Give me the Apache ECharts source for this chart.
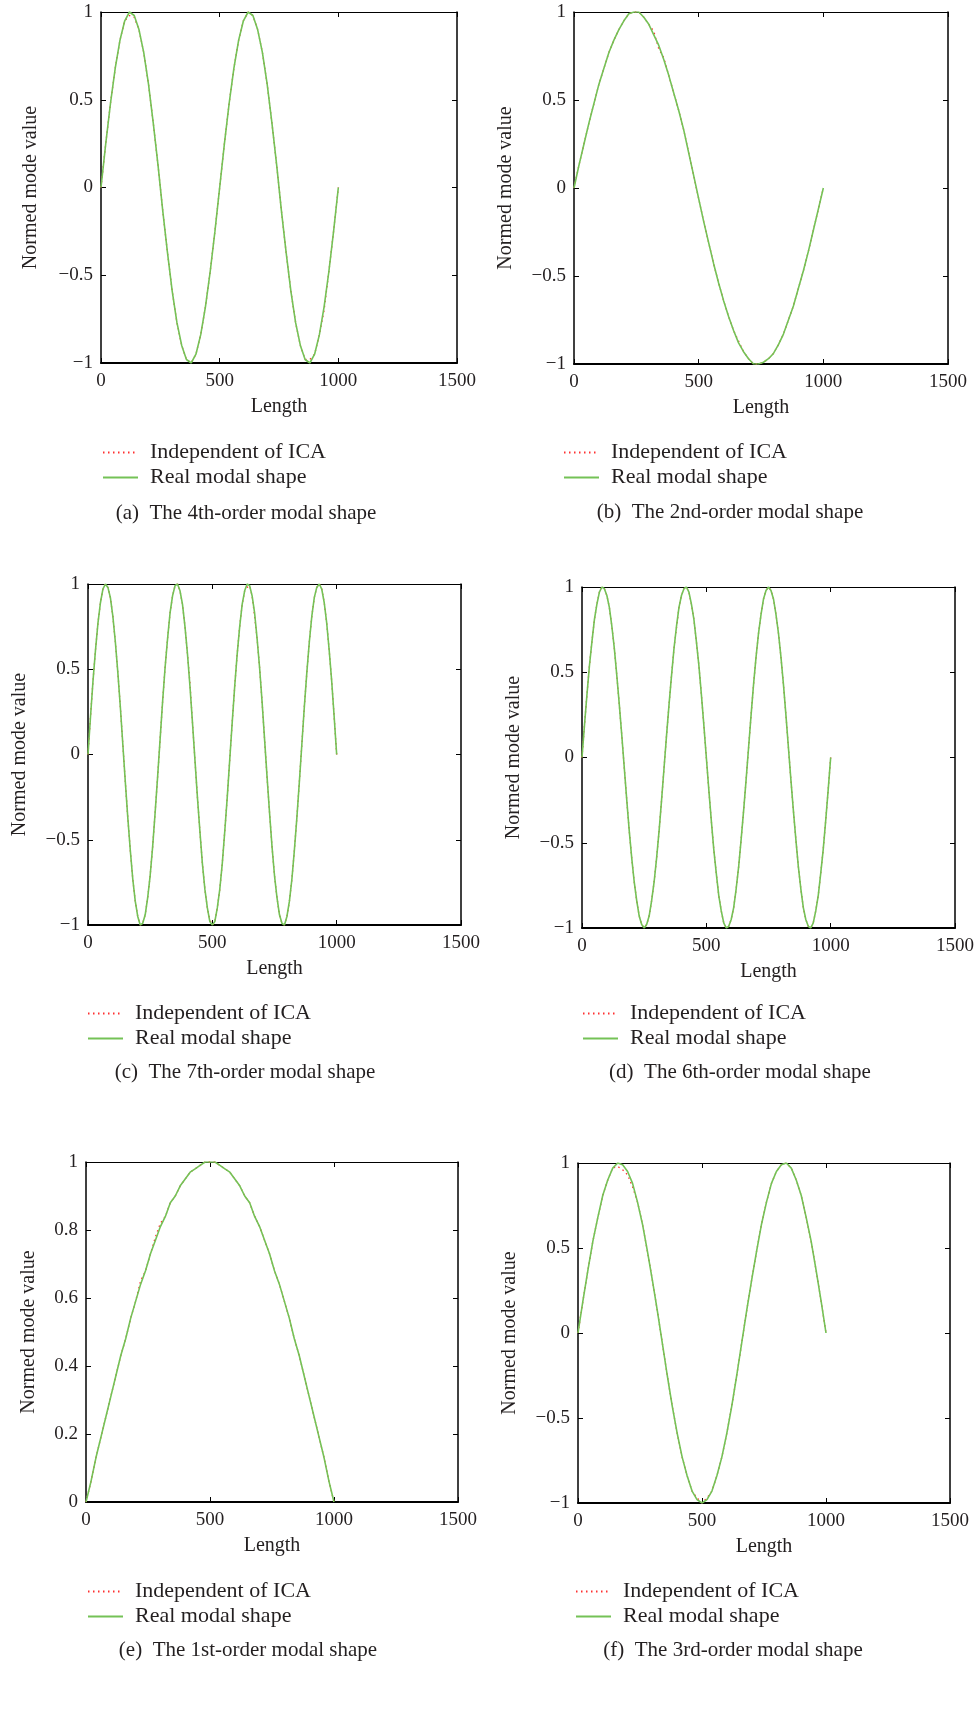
<!DOCTYPE html>
<html><head><meta charset="utf-8">
<script src="https://cdn.jsdelivr.net/npm/echarts@6/dist/echarts.min.js"></script>
<style>html,body{margin:0;padding:0;background:#fff}#c{width:977px;height:1719px}</style>
</head><body><div id="c"></div>
<script>
// ---------- DATA ----------
const lengthCoarse = [0,20,40,60,80,100,120,140,160,180,200,220,240,260,280,300,320,340,360,380,400,420,440,460,480,500,520,540,560,580,600,620,640,660,680,700,720,740,760,780,800,820,840,860,880,900,920,940,960,980,1000];
const lengthFine = [0,10,20,30,40,50,60,70,80,90,100,110,120,130,140,150,160,170,180,190,200,210,220,230,240,250,260,270,280,290,300,310,320,330,340,350,360,370,380,390,400,410,420,430,440,450,460,470,480,490,500,510,520,530,540,550,560,570,580,590,600,610,620,630,640,650,660,670,680,690,700,710,720,730,740,750,760,770,780,790,800,810,820,830,840,850,860,870,880,890,900,910,920,930,940,950,960,970,980,990,1000];

const legendNames = ['Independent of ICA', 'Real modal shape'];
const captions = ['(a)  The 4th-order modal shape','(b)  The 2nd-order modal shape','(c)  The 7th-order modal shape','(d)  The 6th-order modal shape','(e)  The 1st-order modal shape','(f)  The 3rd-order modal shape'];

// (a) 4th order
const mode4Real = [0,0.25,0.48,0.68,0.84,0.95,1.00,0.98,0.90,0.77,0.59,0.37,0.13,-0.13,-0.37,-0.59,-0.77,-0.90,-0.98,-1.00,-0.95,-0.84,-0.68,-0.48,-0.25,0,0.25,0.48,0.68,0.84,0.95,1.00,0.98,0.90,0.77,0.59,0.37,0.13,-0.13,-0.37,-0.59,-0.77,-0.90,-0.98,-1.00,-0.95,-0.84,-0.68,-0.48,-0.25,0];
const mode4Ica  = [0,0.25,0.48,0.68,0.84,0.95,0.98,0.97,0.90,0.77,0.59,0.37,0.13,-0.13,-0.37,-0.59,-0.77,-0.90,-0.98,-1.00,-0.95,-0.84,-0.68,-0.48,-0.25,0,0.25,0.48,0.68,0.84,0.95,1.00,0.98,0.90,0.77,0.59,0.37,0.13,-0.13,-0.37,-0.59,-0.77,-0.90,-0.98,-0.98,-0.95,-0.84,-0.70,-0.48,-0.25,0];
// (b) 2nd order
const mode2Real = [0,0.13,0.25,0.37,0.48,0.59,0.68,0.77,0.84,0.90,0.95,0.99,1.00,1.00,0.97,0.93,0.87,0.81,0.73,0.64,0.54,0.44,0.33,0.20,0.07,-0.06,-0.19,-0.31,-0.43,-0.54,-0.64,-0.73,-0.81,-0.88,-0.93,-0.97,-1.00,-1.00,-0.99,-0.97,-0.94,-0.89,-0.83,-0.75,-0.67,-0.57,-0.47,-0.36,-0.24,-0.12,0];
const mode2Ica  = [0,0.13,0.25,0.37,0.48,0.59,0.68,0.77,0.84,0.90,0.95,0.99,1.00,1.00,0.97,0.93,0.89,0.79,0.74,0.64,0.54,0.44,0.33,0.20,0.07,-0.06,-0.19,-0.31,-0.43,-0.54,-0.64,-0.73,-0.81,-0.87,-0.93,-0.97,-1.00,-1.00,-0.99,-0.97,-0.94,-0.89,-0.83,-0.75,-0.67,-0.57,-0.47,-0.36,-0.24,-0.12,0];
// (c) 7th order
const mode7Real = [0,0.22,0.43,0.61,0.77,0.89,0.97,1.00,0.98,0.92,0.81,0.66,0.48,0.28,0.06,-0.16,-0.37,-0.56,-0.73,-0.86,-0.95,-1.00,-0.99,-0.94,-0.84,-0.71,-0.54,-0.34,-0.13,0.09,0.31,0.51,0.68,0.83,0.93,0.99,1.00,0.96,0.88,0.75,0.59,0.40,0.19,-0.03,-0.25,-0.45,-0.64,-0.79,-0.90,-0.98,-1.00,-0.98,-0.90,-0.79,-0.64,-0.45,-0.25,-0.03,0.19,0.40,0.59,0.75,0.88,0.96,1.00,0.99,0.93,0.83,0.68,0.51,0.31,0.09,-0.13,-0.34,-0.54,-0.71,-0.84,-0.94,-0.99,-1.00,-0.95,-0.86,-0.73,-0.56,-0.37,-0.16,0.06,0.28,0.48,0.66,0.81,0.92,0.98,1.00,0.97,0.89,0.77,0.61,0.43,0.22,0];
const mode7Ica  = [0,0.22,0.43,0.61,0.77,0.89,0.97,1.00,0.98,0.92,0.81,0.66,0.48,0.28,0.06,-0.16,-0.37,-0.56,-0.73,-0.86,-0.95,-1.00,-0.99,-0.94,-0.84,-0.71,-0.54,-0.34,-0.13,0.09,0.31,0.51,0.68,0.83,0.93,0.99,1.00,0.96,0.88,0.75,0.59,0.42,0.19,-0.03,-0.25,-0.45,-0.64,-0.79,-0.90,-0.97,-1.00,-0.98,-0.90,-0.79,-0.64,-0.45,-0.25,-0.03,0.19,0.40,0.59,0.75,0.88,0.96,0.98,0.99,0.93,0.81,0.68,0.51,0.31,0.09,-0.13,-0.34,-0.54,-0.71,-0.84,-0.94,-0.99,-1.00,-0.95,-0.86,-0.73,-0.56,-0.37,-0.16,0.06,0.28,0.48,0.66,0.81,0.92,0.98,1.00,0.97,0.89,0.77,0.61,0.43,0.22,0];
// (d) 6th order
const mode6Real = [0,0.19,0.37,0.54,0.68,0.81,0.90,0.97,1.00,0.99,0.95,0.88,0.77,0.64,0.48,0.31,0.13,-0.06,-0.25,-0.43,-0.59,-0.73,-0.84,-0.93,-0.98,-1.00,-0.98,-0.93,-0.84,-0.73,-0.59,-0.43,-0.25,-0.06,0.13,0.31,0.48,0.64,0.77,0.88,0.95,0.99,1.00,0.97,0.90,0.81,0.68,0.54,0.37,0.19,0,-0.19,-0.37,-0.54,-0.68,-0.81,-0.90,-0.97,-1.00,-0.99,-0.95,-0.88,-0.77,-0.64,-0.48,-0.31,-0.13,0.06,0.25,0.43,0.59,0.73,0.84,0.93,0.98,1.00,0.98,0.93,0.84,0.73,0.59,0.43,0.25,0.06,-0.13,-0.31,-0.48,-0.64,-0.77,-0.88,-0.95,-0.99,-1.00,-0.97,-0.90,-0.81,-0.68,-0.54,-0.37,-0.19,0];
const mode6Ica  = [0,0.19,0.37,0.54,0.68,0.81,0.90,0.97,1.00,0.99,0.95,0.88,0.77,0.64,0.48,0.31,0.13,-0.06,-0.25,-0.43,-0.59,-0.73,-0.84,-0.93,-0.98,-1.00,-0.98,-0.93,-0.84,-0.73,-0.59,-0.43,-0.25,-0.06,0.13,0.31,0.48,0.64,0.76,0.88,0.95,0.99,1.00,0.97,0.90,0.81,0.68,0.54,0.37,0.19,0,-0.19,-0.37,-0.54,-0.68,-0.81,-0.90,-0.97,-1.00,-0.99,-0.95,-0.88,-0.77,-0.64,-0.48,-0.31,-0.13,0.06,0.25,0.43,0.59,0.73,0.84,0.93,0.98,1.00,0.98,0.93,0.84,0.73,0.59,0.43,0.25,0.06,-0.13,-0.31,-0.48,-0.64,-0.77,-0.88,-0.95,-0.99,-1.00,-0.97,-0.90,-0.81,-0.68,-0.54,-0.37,-0.19,0];
// (e) 1st order
const mode1Real = [0,0.06,0.13,0.19,0.25,0.31,0.37,0.43,0.48,0.54,0.59,0.64,0.68,0.73,0.77,0.81,0.84,0.88,0.90,0.93,0.95,0.97,0.98,0.99,1.00,1.00,1.00,0.99,0.98,0.97,0.95,0.93,0.90,0.88,0.84,0.81,0.77,0.73,0.68,0.64,0.59,0.54,0.48,0.43,0.37,0.31,0.25,0.19,0.13,0.06,0];
const mode1Ica  = [0,0.06,0.13,0.19,0.25,0.31,0.37,0.43,0.48,0.54,0.59,0.65,0.68,0.73,0.78,0.82,0.84,0.88,0.90,0.93,0.95,0.97,0.98,0.99,1.00,1.00,1.00,0.99,0.98,0.97,0.95,0.93,0.90,0.88,0.84,0.81,0.77,0.73,0.68,0.64,0.59,0.54,0.48,0.43,0.37,0.31,0.25,0.19,0.13,0.06,0];
// (f) 3rd order
const mode3Real = [0,0.19,0.37,0.54,0.68,0.81,0.90,0.97,1.00,0.99,0.95,0.88,0.77,0.64,0.48,0.31,0.13,-0.06,-0.25,-0.43,-0.59,-0.73,-0.84,-0.93,-0.98,-1.00,-0.98,-0.93,-0.84,-0.73,-0.59,-0.43,-0.25,-0.06,0.13,0.31,0.48,0.64,0.77,0.88,0.95,0.99,1.00,0.97,0.90,0.81,0.68,0.54,0.37,0.19,0];
const mode3Ica  = [0,0.19,0.37,0.54,0.68,0.81,0.90,0.97,0.98,0.96,0.93,0.86,0.77,0.64,0.48,0.31,0.13,-0.06,-0.25,-0.43,-0.59,-0.73,-0.84,-0.93,-0.97,-1.00,-0.97,-0.93,-0.84,-0.73,-0.59,-0.43,-0.25,-0.06,0.13,0.31,0.48,0.64,0.77,0.88,0.95,0.99,1.00,0.97,0.90,0.81,0.68,0.54,0.37,0.19,0];

// ---------- LAYOUT / STYLE ----------
const FONT = '"Liberation Serif","DejaVu Serif",serif';
const TXT = '#231f20';
const GREEN = '#74c256';
const RED = '#ff3030';

const panels = [
  {x: lengthCoarse, real: mode4Real, ica: mode4Ica, yMin:-1, yMax:1, yInt:0.5, grid:{left:101,top:12,width:356,height:351}, yNameGap:60, leg:[102,441], cap:[246,513]},
  {x: lengthCoarse, real: mode2Real, ica: mode2Ica, yMin:-1, yMax:1, yInt:0.5, grid:{left:574,top:12,width:374,height:352}, yNameGap:58, leg:[563,441], cap:[730,512]},
  {x: lengthFine,   real: mode7Real, ica: mode7Ica, yMin:-1, yMax:1, yInt:0.5, grid:{left:88,top:584,width:373,height:341}, yNameGap:58, leg:[87,1002], cap:[245,1072]},
  {x: lengthFine,   real: mode6Real, ica: mode6Ica, yMin:-1, yMax:1, yInt:0.5, grid:{left:582,top:587,width:374,height:341}, yNameGap:58, leg:[582,1002], cap:[740,1072]},
  {x: lengthCoarse, real: mode1Real, ica: mode1Ica, yMin:0, yMax:1, yInt:0.2, grid:{left:86,top:1162,width:372,height:340}, yNameGap:47, leg:[87,1580], cap:[248,1650]},
  {x: lengthCoarse, real: mode3Real, ica: mode3Ica, yMin:-1, yMax:1, yInt:0.5, grid:{left:578,top:1163,width:372,height:340}, yNameGap:58, leg:[575,1580], cap:[733,1650]}
];

const grids = [], xAxes = [], yAxes = [], series = [], legends = [], graphics = [];
const fmtY = v => String(+v.toFixed(2)).replace('-', '\u2212');
const fmtX = v => String(v);

panels.forEach((p, i) => {
  grids.push(Object.assign({}, p.grid));
  const xBase = {gridIndex:i, type:'value', min:0, max:1500, interval:500, splitLine:{show:false},
    axisTick:{show:true, inside:true, length:5, lineStyle:{color:'#000', width:1}}};
  xAxes.push(Object.assign({}, xBase, {position:'bottom', name:'Length', nameLocation:'middle', nameGap:34,
    nameTextStyle:{fontFamily:FONT, fontSize:20, color:TXT},
    axisLine:{show:true, onZero:false, lineStyle:{color:'#000', width:2}},
    axisLabel:{fontFamily:FONT, fontSize:19, color:TXT, margin:9, formatter:fmtX}}));
  xAxes.push(Object.assign({}, xBase, {position:'top',
    axisLine:{show:true, onZero:false, lineStyle:{color:'#000', width:1.2}}, axisLabel:{show:false}}));
  const yBase = {gridIndex:i, type:'value', min:p.yMin, max:p.yMax, interval:p.yInt, splitLine:{show:false},
    axisTick:{show:true, inside:true, length:5, lineStyle:{color:'#000', width:1}}};
  yAxes.push(Object.assign({}, yBase, {position:'left', name:'Normed mode value', nameLocation:'middle', nameGap:p.yNameGap,
    nameTextStyle:{fontFamily:FONT, fontSize:20, color:TXT},
    axisLine:{show:true, onZero:false, lineStyle:{color:'#000', width:1.5}},
    axisLabel:{fontFamily:FONT, fontSize:19, color:TXT, margin:8, formatter:fmtY}}));
  yAxes.push(Object.assign({}, yBase, {position:'right',
    axisLine:{show:true, onZero:false, lineStyle:{color:'#000', width:1.5}}, axisLabel:{show:false}}));

  series.push({type:'line', name:legendNames[0], xAxisIndex:2*i, yAxisIndex:2*i, symbol:'none', z:2,
    data:p.x.map((x,j)=>[x, p.ica[j]]),
    lineStyle:{color:RED, width:1.3, type:[1.5,3.5]}, itemStyle:{color:RED}});
  series.push({type:'line', name:legendNames[1], xAxisIndex:2*i, yAxisIndex:2*i, symbol:'none', z:3,
    data:p.x.map((x,j)=>[x, p.real[j]]),
    lineStyle:{color:GREEN, width:1.6}, itemStyle:{color:GREEN}});

  legends.push({left:p.leg[0], top:p.leg[1], orient:'vertical', padding:0, itemGap:2,
    itemWidth:35, itemHeight:12, data:legendNames, selectedMode:false,
    itemStyle:{opacity:0, borderWidth:0},
    textStyle:{fontFamily:FONT, fontSize:22, lineHeight:23, color:TXT, padding:[0,0,0,7]}});

  graphics.push({type:'text', x:p.cap[0], y:p.cap[1],
    style:{text:captions[i], font:'21px ' + FONT, fill:TXT, align:'center', verticalAlign:'middle'}});
});

const chart = echarts.init(document.getElementById('c'), null, {renderer:'canvas'});
chart.setOption({
  animation:false, backgroundColor:'#fff',
  grid:grids, xAxis:xAxes, yAxis:yAxes, series:series, legend:legends, graphic:graphics
});
</script>
</body></html>
